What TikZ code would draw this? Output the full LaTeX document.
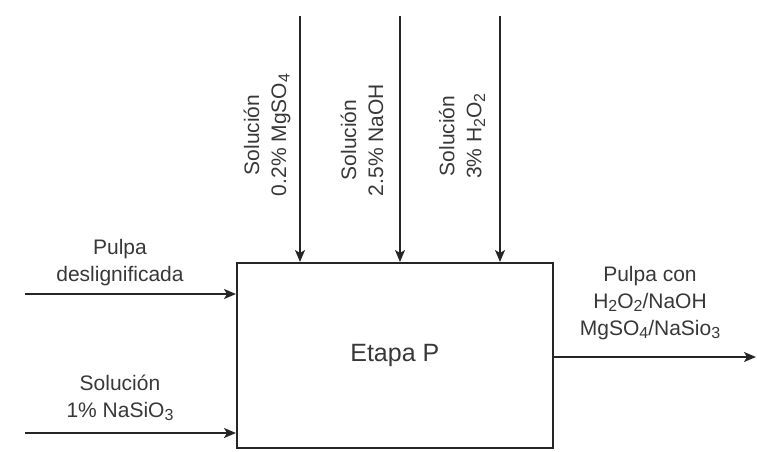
\documentclass[tikz,border=0pt]{standalone}
\usepackage{fontspec}
\setmainfont{Liberation Sans}
\usetikzlibrary{arrows.meta}
\newcommand{\mysub}[1]{\raisebox{-0.32ex}{\fontsize{16}{16}\selectfont #1}}
\begin{document}
\begin{tikzpicture}[x=1pt,y=-1pt,
  flow/.style={line width=1.6pt, draw=black!85, -{Stealth[length=12pt,width=10pt,inset=3pt]}},
  lbl/.style={font=\fontsize{21}{27}\selectfont, align=center, inner sep=0pt, text=black!78},
  procbox/.style={draw=black!85, line width=1.6pt, minimum width=316pt, minimum height=185pt, inner sep=0pt}]
\useasboundingbox (0,0) rectangle (757,451);
\node[procbox, anchor=north west] (box) at (236,262) {};
\node[lbl, font=\fontsize{25}{27}\selectfont] (etapa) at (box.center) {Etapa P};
% top inputs
\coordinate (s1) at (300,16);
\coordinate (s2) at (400,16);
\coordinate (s3) at (500,16);
\draw[flow] (s1) -- (s1 |- box.north);
\draw[flow] (s2) -- (s2 |- box.north);
\draw[flow] (s3) -- (s3 |- box.north);
\node[lbl, rotate=90] (t1) at (267,135) {Solución\\0.2\% MgSO\mysub{4}};
\node[lbl, rotate=90] (t2) at (362,140) {Solución\\2.5\% NaOH};
\node[lbl, rotate=90] (t3) at (462,136) {Solución\\3\% H\mysub{2}O\mysub{2}};
% left inputs
\coordinate (l1) at (25,294);
\coordinate (l2) at (25,433);
\draw[flow] (l1) -- (l1 -| box.west);
\draw[flow] (l2) -- (l2 -| box.west);
\node[lbl] (a1) at (120,263) {Pulpa\\deslignificada};
\node[lbl] (a2) at (120,398) {Solución\\1\% NaSiO\mysub{3}};
% output
\coordinate (r1) at (756,357);
\draw[flow] (r1 -| box.east) -- (r1);
\node[lbl] (o1) at (650,303) {Pulpa con\\H\mysub{2}O\mysub{2}/NaOH\\MgSO\mysub{4}/NaSio\mysub{3}};
\end{tikzpicture}
\end{document}
